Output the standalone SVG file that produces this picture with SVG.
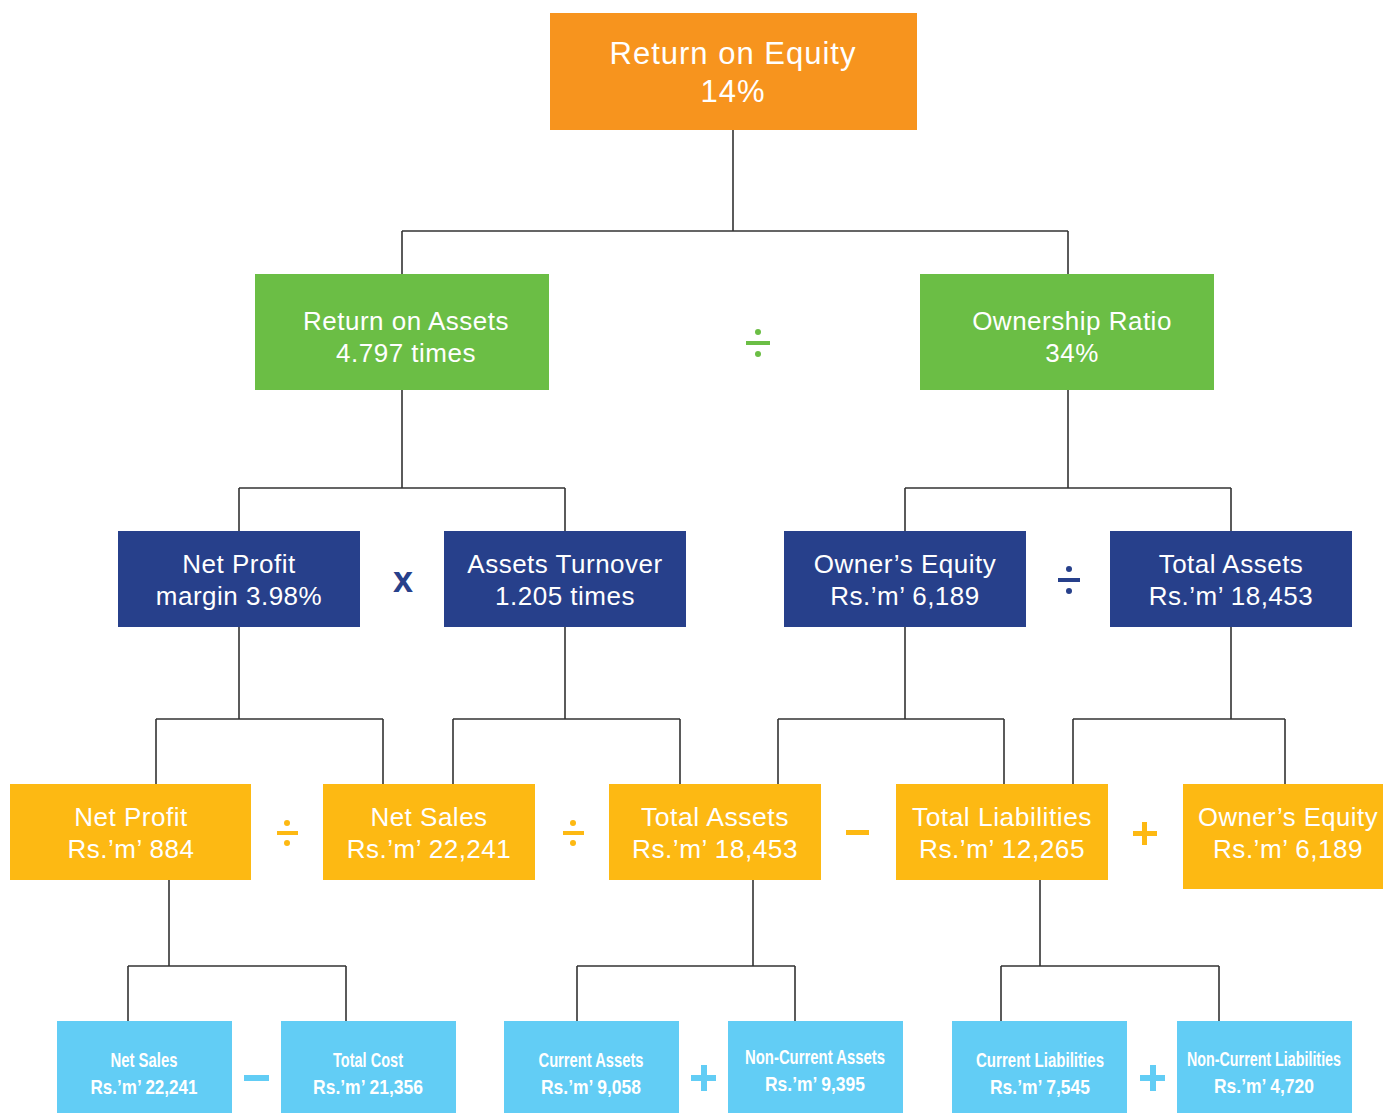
<svg xmlns="http://www.w3.org/2000/svg" width="1383" height="1113" viewBox="0 0 1383 1113">
  <style>
    .lbl { font-family: "Liberation Sans", Arial, sans-serif; fill: #ffffff; text-anchor: middle; }
    .l1 { font-size: 31px; letter-spacing: 1px; }
    .l2 { font-size: 26px; letter-spacing: 0.5px; }
    .l3 { font-size: 26px; letter-spacing: 0.5px; }
    .l4 { font-size: 21px; font-weight: bold; }
    .orange { fill: #f7941e; }
    .green { fill: #6bbe45; }
    .navy { fill: #27408b; }
    .yellow { fill: #fdb913; }
    .sky { fill: #62cdf5; }
    .wire { fill: none; stroke: #333333; stroke-width: 1.6; }
    .op { font-family: "Liberation Sans", Arial, sans-serif; text-anchor: middle; font-weight: bold; }
  </style>

  <!-- connectors -->
  <g id="connectors" class="wire">
    <path d="M733 130V231M402 231H1068M402 231V274M1068 231V274"/>
    <path d="M402 390V488M239 488H565M239 488V531M565 488V531"/>
    <path d="M1068 390V488M905 488H1231M905 488V531M1231 488V531"/>
    <path d="M239 627V719M156 719H383M156 719V784M383 719V784"/>
    <path d="M565 627V719M453 719H680M453 719V784M680 719V784"/>
    <path d="M905 627V719M778 719H1004M778 719V784M1004 719V784"/>
    <path d="M1231 627V719M1073 719H1285M1073 719V784M1285 719V784"/>
    <path d="M169 880V966M128 966H346M128 966V1021M346 966V1021"/>
    <path d="M753 880V966M577 966H795M577 966V1021M795 966V1021"/>
    <path d="M1040 880V966M1001 966H1219M1001 966V1021M1219 966V1021"/>
  </g>

  <!-- level 1 -->
  <g id="roe">
    <rect class="orange" x="550" y="13" width="367" height="117"/>
    <text class="lbl l1" x="733" y="64">Return on Equity</text>
    <text class="lbl l1" x="733" y="102">14%</text>
  </g>

  <!-- level 2 -->
  <g id="roa">
    <rect class="green" x="255" y="274" width="294" height="116"/>
    <text class="lbl l2" x="406" y="330">Return on Assets</text>
    <text class="lbl l2" x="406" y="362">4.797 times</text>
  </g>
  <g id="ownership-ratio">
    <rect class="green" x="920" y="274" width="294" height="116"/>
    <text class="lbl l2" x="1072" y="330">Ownership Ratio</text>
    <text class="lbl l2" x="1072" y="362">34%</text>
  </g>

  <!-- level 3 -->
  <g id="net-profit-margin">
    <rect class="navy" x="118" y="531" width="242" height="96"/>
    <text class="lbl l3" x="239" y="573">Net Profit</text>
    <text class="lbl l3" x="239" y="605">margin 3.98%</text>
  </g>
  <g id="assets-turnover">
    <rect class="navy" x="444" y="531" width="242" height="96"/>
    <text class="lbl l3" x="565" y="573">Assets Turnover</text>
    <text class="lbl l3" x="565" y="605">1.205 times</text>
  </g>
  <g id="owners-equity-1">
    <rect class="navy" x="784" y="531" width="242" height="96"/>
    <text class="lbl l3" x="905" y="573">Owner’s Equity</text>
    <text class="lbl l3" x="905" y="605">Rs.’m’ 6,189</text>
  </g>
  <g id="total-assets-1">
    <rect class="navy" x="1110" y="531" width="242" height="96"/>
    <text class="lbl l3" x="1231" y="573">Total Assets</text>
    <text class="lbl l3" x="1231" y="605">Rs.’m’ 18,453</text>
  </g>

  <!-- level 4 -->
  <g id="net-profit">
    <rect class="yellow" x="10" y="784" width="241" height="96"/>
    <text class="lbl l3" x="131" y="826">Net Profit</text>
    <text class="lbl l3" x="131" y="858">Rs.’m’ 884</text>
  </g>
  <g id="net-sales-1">
    <rect class="yellow" x="323" y="784" width="212" height="96"/>
    <text class="lbl l3" x="429" y="826">Net Sales</text>
    <text class="lbl l3" x="429" y="858">Rs.’m’ 22,241</text>
  </g>
  <g id="total-assets-2">
    <rect class="yellow" x="609" y="784" width="212" height="96"/>
    <text class="lbl l3" x="715" y="826" textLength="148" lengthAdjust="spacingAndGlyphs">Total Assets</text>
    <text class="lbl l3" x="715" y="858" textLength="166" lengthAdjust="spacingAndGlyphs">Rs.’m’ 18,453</text>
  </g>
  <g id="total-liabilities">
    <rect class="yellow" x="896" y="784" width="212" height="96"/>
    <text class="lbl l3" x="1002" y="826" textLength="180" lengthAdjust="spacingAndGlyphs">Total Liabilities</text>
    <text class="lbl l3" x="1002" y="858" textLength="166" lengthAdjust="spacingAndGlyphs">Rs.’m’ 12,265</text>
  </g>
  <g id="owners-equity-2">
    <rect class="yellow" x="1183" y="784" width="200" height="105"/>
    <text class="lbl l3" x="1288" y="826" textLength="180" lengthAdjust="spacingAndGlyphs">Owner’s Equity</text>
    <text class="lbl l3" x="1288" y="858" textLength="150" lengthAdjust="spacingAndGlyphs">Rs.’m’ 6,189</text>
  </g>

  <!-- level 5 -->
  <g id="net-sales-2">
    <rect class="sky" x="57" y="1021" width="175" height="92"/>
    <text class="lbl l4" x="144" y="1067" textLength="67" lengthAdjust="spacingAndGlyphs">Net Sales</text>
    <text class="lbl l4" x="144" y="1094" textLength="107" lengthAdjust="spacingAndGlyphs">Rs.’m’ 22,241</text>
  </g>
  <g id="total-cost">
    <rect class="sky" x="281" y="1021" width="175" height="92"/>
    <text class="lbl l4" x="368" y="1067" textLength="70" lengthAdjust="spacingAndGlyphs">Total Cost</text>
    <text class="lbl l4" x="368" y="1094" textLength="110" lengthAdjust="spacingAndGlyphs">Rs.’m’ 21,356</text>
  </g>
  <g id="current-assets">
    <rect class="sky" x="504" y="1021" width="175" height="92"/>
    <text class="lbl l4" x="591" y="1067" textLength="105" lengthAdjust="spacingAndGlyphs">Current Assets</text>
    <text class="lbl l4" x="591" y="1094" textLength="100" lengthAdjust="spacingAndGlyphs">Rs.’m’ 9,058</text>
  </g>
  <g id="non-current-assets">
    <rect class="sky" x="728" y="1021" width="175" height="92"/>
    <text class="lbl l4" x="815" y="1064" textLength="140" lengthAdjust="spacingAndGlyphs">Non-Current Assets</text>
    <text class="lbl l4" x="815" y="1091" textLength="100" lengthAdjust="spacingAndGlyphs">Rs.’m’ 9,395</text>
  </g>
  <g id="current-liabilities">
    <rect class="sky" x="952" y="1021" width="175" height="92"/>
    <text class="lbl l4" x="1040" y="1067" textLength="128" lengthAdjust="spacingAndGlyphs">Current Liabilities</text>
    <text class="lbl l4" x="1040" y="1094" textLength="100" lengthAdjust="spacingAndGlyphs">Rs.’m’ 7,545</text>
  </g>
  <g id="non-current-liabilities">
    <rect class="sky" x="1177" y="1021" width="175" height="92"/>
    <text class="lbl l4" x="1264" y="1066" textLength="154" lengthAdjust="spacingAndGlyphs">Non-Current Liabilities</text>
    <text class="lbl l4" x="1264" y="1093" textLength="100" lengthAdjust="spacingAndGlyphs">Rs.’m’ 4,720</text>
  </g>

  <!-- operators -->
  <g id="operators">
    <!-- green divide -->
    <g fill="#6bbe45">
      <circle cx="758" cy="332" r="3"/>
      <rect x="746" y="341" width="24" height="4"/>
      <circle cx="758" cy="354" r="3"/>
    </g>
    <!-- navy multiply -->
    <text class="op" x="403" y="592" font-size="36" fill="#27408b">x</text>
    <!-- navy divide -->
    <g fill="#27408b">
      <circle cx="1069" cy="569" r="3"/>
      <rect x="1058" y="578" width="22" height="4"/>
      <circle cx="1069" cy="591" r="3"/>
    </g>
    <!-- yellow operators -->
    <g fill="#fdb913">
      <circle cx="287" cy="823" r="3"/>
      <rect x="277" y="831" width="21" height="4"/>
      <circle cx="287" cy="843" r="3"/>
      <circle cx="573" cy="823" r="3"/>
      <rect x="563" y="831" width="21" height="4"/>
      <circle cx="573" cy="843" r="3"/>
      <rect x="846" y="830" width="23" height="5"/>
      <rect x="1133" y="831" width="24" height="5"/>
      <rect x="1142" y="822" width="5" height="23"/>
    </g>
    <!-- sky operators -->
    <g fill="#62cdf5">
      <rect x="244" y="1075" width="25" height="6"/>
      <rect x="691" y="1075" width="25" height="6"/>
      <rect x="701" y="1065" width="6" height="26"/>
      <rect x="1140" y="1075" width="25" height="6"/>
      <rect x="1150" y="1065" width="6" height="26"/>
    </g>
  </g>
</svg>
